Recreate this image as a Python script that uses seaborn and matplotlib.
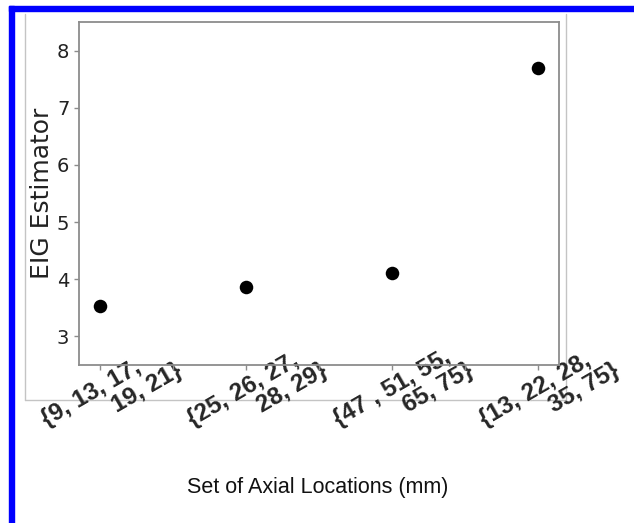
import matplotlib
matplotlib.use("Agg")
import matplotlib.pyplot as plt
import seaborn as sns
import pandas as pd
from matplotlib.patches import Rectangle
from matplotlib.lines import Line2D

# ---- data ----
location_sets = [
    "{9, 13, 17,\n          19, 21}",
    "{25, 26, 27,\n          28, 29}",
    "{47 , 51, 55,\n          65, 75}",
    "{13, 22, 28,\n          35, 75}",
]
eig_values = [3.54, 3.87, 4.11, 7.69]
y_ticks = [3, 4, 5, 6, 7, 8]
x_label = "Set of Axial Locations (mm)"
y_label = "EIG Estimator"

sns.set_style("white")

W, H = 634, 523
fig = plt.figure(figsize=(W / 100, H / 100), dpi=100)

# blue frame (top and left)
fig.patches.append(Rectangle((9 / W, 1 - 11 / H), 1 - 9 / W, 5 / H,
                             transform=fig.transFigure, color="#0000ff", zorder=0))
fig.patches.append(Rectangle((9 / W, 0), 5 / W, 1 - 6 / H,
                             transform=fig.transFigure, color="#0000ff", zorder=0))
# light grey frame of embedded plot
gc = "#c4c4c4"
for xs, ys in [((25, 25), (14, 400)), ((566, 566), (14, 400)), ((25, 566), (400, 400))]:
    fig.add_artist(Line2D([x / W for x in xs], [1 - y / H for y in ys],
                          transform=fig.transFigure, color=gc, lw=1.0, zorder=0))

ax = fig.add_axes([79 / W, 1 - 365 / H, 480 / W, 343 / H])
df = pd.DataFrame({"pos": list(range(len(location_sets))), "eig": eig_values})
sns.scatterplot(data=df, x="pos", y="eig", ax=ax, s=95, color="black",
                edgecolor="black", linewidth=0, zorder=3)

ax.set_xlim(-0.145, 3.145)
ax.set_ylim(2.5, 8.5)
ax.set_yticks(y_ticks)
ax.set_yticklabels([str(t) for t in y_ticks], fontsize=14, color="#222222")
ax.set_xticks(list(range(len(location_sets))))
ax.set_xticks([0.5, 1.5, 2.5], minor=True)
ax.set_xticklabels(location_sets, fontsize=17.5, fontweight="bold",
                   family="Liberation Sans", rotation=30,
                   rotation_mode="anchor", ha="center", va="top")
for lbl in ax.get_xticklabels():
    lbl.set_multialignment("left")
    lbl.set_linespacing(1.0)

for s in ax.spines.values():
    s.set_color("#8c8c8c")
    s.set_linewidth(1.3)
ax.tick_params(axis="both", which="both", direction="out", length=3.5,
               width=1, color="#8c8c8c", bottom=True, left=True)
ax.tick_params(axis="x", which="major", pad=4)

ax.set_xlabel("")
ax.set_ylabel(y_label, fontsize=18, color="#222222", labelpad=2)

fig.text(318 / W, 1 - 488 / H, x_label, ha="center", va="center",
         family="Liberation Sans", fontsize=15.5, color="#111111")

fig.savefig("out.png", dpi=100, facecolor="white")
